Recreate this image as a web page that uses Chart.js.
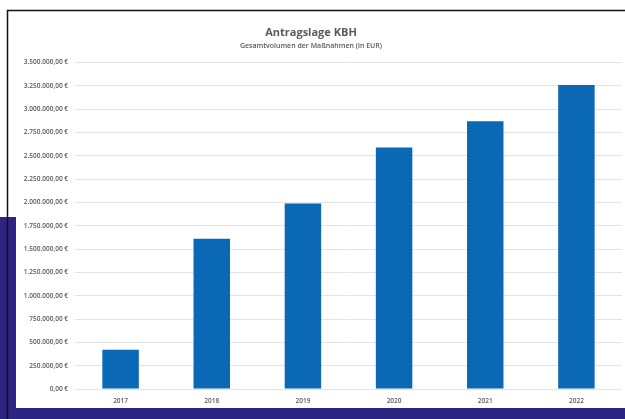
<!DOCTYPE html>
<html>
<head>
<meta charset="utf-8">
<script src="https://cdn.jsdelivr.net/npm/chart.js@4"></script>
<style>
  html, body { margin: 0; padding: 0; background: #fff; }
  #wrap { width: 625px; height: 419px; position: relative; }
</style>
</head>
<body>
<div id="wrap"><canvas id="kbhChart" width="625" height="419"></canvas></div>
<script>
// Antragslage KBH - Gesamtvolumen der Maßnahmen (in EUR)
const years = ['2017', '2018', '2019', '2020', '2021', '2022'];
const volumes = [420000, 1610000, 1990000, 2590000, 2870000, 3260000];
const yMax = 3500000;
const yStep = 250000;

const textGray = '#595959';
const barBlue = '#0b68b5';
const frameBlue = '#2e2481';

function euro(v) {
  const s = Math.round(v).toString().replace(/\B(?=(\d{3})+(?!\d))/g, '.');
  return s + ',00 €';
}

// white page, dark frame blocks and the thin black border lines
const frame = {
  id: 'frame',
  beforeDraw(chart) {
    const c = chart.ctx;
    c.save();
    c.fillStyle = '#fff';
    c.fillRect(0, 0, 625, 419);
    c.fillStyle = frameBlue;
    c.fillRect(0, 217, 16, 202);
    c.fillRect(0, 408, 625, 11);
    c.strokeStyle = '#111';
    c.lineWidth = 1.5;
    c.beginPath();
    c.moveTo(7.5, 419);
    c.lineTo(7.5, 10.5);
    c.lineTo(625, 10.5);
    c.stroke();
    c.restore();
  }
};

new Chart(document.getElementById('kbhChart'), {
  type: 'bar',
  data: {
    labels: years,
    datasets: [{
      label: 'Gesamtvolumen',
      data: volumes,
      backgroundColor: barBlue,
      barPercentage: 0.8,
      categoryPercentage: 0.5
    }]
  },
  plugins: [frame],
  options: {
    responsive: false,
    animation: false,
    layout: { padding: { left: 0, right: 3, top: 0, bottom: 0 } },
    plugins: {
      legend: { display: false },
      tooltip: { enabled: false },
      title: {
        display: true,
        text: 'Antragslage KBH',
        color: textGray,
        font: { family: 'Open Sans', size: 11, weight: 'bold' },
        padding: { top: 26, bottom: 3 }
      },
      subtitle: {
        display: true,
        text: 'Gesamtvolumen der Maßnahmen (in EUR)',
        color: textGray,
        font: { family: 'Open Sans', size: 7, weight: '600' },
        padding: { top: 0, bottom: 12 }
      }
    },
    scales: {
      x: {
        afterFit(scale) { scale.height = 30; },
        grid: { display: false, drawTicks: false },
        border: { display: false },
        ticks: {
          color: textGray,
          padding: 8,
          font: { family: 'Open Sans', size: 6.5, weight: '600' }
        }
      },
      y: {
        min: 0,
        max: yMax,
        afterFit(scale) { scale.width = 75; },
        border: { display: false },
        grid: { color: '#e4e4e4', lineWidth: 1, drawTicks: false },
        ticks: {
          stepSize: yStep,
          color: textGray,
          padding: 7,
          font: { family: 'Open Sans', size: 6.5, weight: '600' },
          callback: v => euro(v)
        }
      }
    }
  }
});
</script>
</body>
</html>
